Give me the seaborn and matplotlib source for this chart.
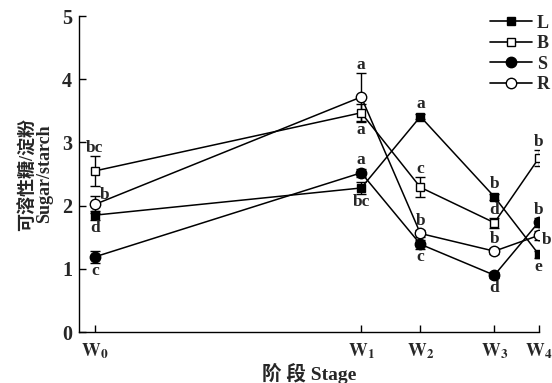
import matplotlib
matplotlib.use("Agg")
import matplotlib.pyplot as plt
import seaborn as sns
import pandas as pd
from matplotlib.lines import Line2D

# Sampling stages and their positions along the time axis
stages = ["W0", "W1", "W2", "W3", "W4"]
stage_pos = [0, 18, 22, 27, 30]
tick_labels = [r"$\mathbf{W}_\mathbf{0}$", r"$\mathbf{W}_\mathbf{1}$", r"$\mathbf{W}_\mathbf{2}$",
               r"$\mathbf{W}_\mathbf{3}$", r"$\mathbf{W}_\mathbf{4}$"]

# Soluble sugar / starch ratio per organ
L_vals = [1.85, 2.28, 3.41, 2.14, 1.23]
B_vals = [2.55, 3.47, 2.29, 1.73, 2.75]
S_vals = [1.19, 2.52, 1.39, 0.90, 1.74]
R_vals = [2.02, 3.72, 1.56, 1.28, 1.53]

# Standard errors
L_err = [0.07, 0.10, 0.04, 0.05, 0.06]
B_err = [0.24, 0.14, 0.16, 0.08, 0.13]
S_err = [0.10, 0.06, 0.07, 0.05, 0.07]
R_err = [0.14, 0.38, 0.06, 0.05, 0.07]

# Significance letters
L_sig = ["d", "bc", "a", "b", "e"]
B_sig = ["bc", "a", "c", "d", "b"]
S_sig = ["c", "a", "c", "d", "b"]
R_sig = ["b", "a", "b", "b", "b"]

series_names = ["L", "B", "S", "R"]
values = [L_vals, B_vals, S_vals, R_vals]
errors = [L_err, B_err, S_err, R_err]
letters = [L_sig, B_sig, S_sig, R_sig]

# Drawing styles
markers = {"L": "s", "B": "s", "S": "o", "R": "o"}
faces = {"L": "black", "B": "white", "S": "black", "R": "white"}
msizes = {"L": 5.5, "B": 5.5, "S": 7.5, "R": 7.5}
# where each letter sits: u = above, d = below, r = right
letter_side = {
    "L": ["d", "d", "u", "u", "d"],
    "B": ["u", "d", "u", "u", "u"],
    "S": ["d", "u", "d", "d", "u"],
    "R": ["ru", "u", "u", "u", "r"],
}
LETTER_SIZE = 12.5

rows = []
for name, vals, errs in zip(series_names, values, errors):
    for st, xp, v, e in zip(stages, stage_pos, vals, errs):
        rows.append({"organ": name, "stage": st, "pos": xp, "ratio": v, "se": e})
df = pd.DataFrame(rows)

sns.set_theme(style="ticks")
plt.rcParams["font.family"] = ["Liberation Serif", "Noto Sans CJK SC"]
plt.rcParams["mathtext.fontset"] = "stix"

fig = plt.figure(figsize=(5.52, 3.83), dpi=100)
ax = fig.add_axes([0.143, 0.133, 0.833, 0.825])

for i, name in enumerate(series_names):
    sub = df[df["organ"] == name]
    ax.errorbar(sub["pos"], sub["ratio"], yerr=sub["se"], fmt="none",
                ecolor="black", elinewidth=1.0, capsize=3.5, capthick=1.0, zorder=2)
    sns.lineplot(data=sub, x="pos", y="ratio", ax=ax, color="black", linewidth=1.1,
                 marker=markers[name], markersize=msizes[name],
                 markerfacecolor=faces[name], markeredgecolor="black",
                 markeredgewidth=1.0, zorder=3 + i, legend=False)

# Significance letters
for name, vals, errs, sigs in zip(series_names, values, errors, letters):
    for xp, v, e, s, side in zip(stage_pos, vals, errs, sigs, letter_side[name]):
        reach = max(e, 0.07)
        if side == "u":
            ax.annotate(s, (xp, v + reach), xytext=(0, 0), textcoords="offset points",
                        ha="center", va="bottom", fontsize=LETTER_SIZE, fontweight="bold")
        elif side == "d":
            ax.annotate(s, (xp, v - reach), xytext=(0, 0), textcoords="offset points",
                        ha="center", va="top", fontsize=LETTER_SIZE, fontweight="bold")
        elif side == "ru":
            ax.annotate(s, (xp, v), xytext=(3.5, 6.5), textcoords="offset points",
                        ha="left", va="center", fontsize=LETTER_SIZE, fontweight="bold")
        else:
            ax.annotate(s, (xp, v), xytext=(2.5, -3), textcoords="offset points",
                        ha="left", va="center", fontsize=LETTER_SIZE, fontweight="bold",
                        annotation_clip=False)

ax.set_xlim(-1.08, 30)
ax.set_ylim(0, 5)
ax.set_xticks(stage_pos)
ax.set_xticklabels(tick_labels, fontsize=13.5)
ax.set_yticks([0, 1, 2, 3, 4, 5])
ax.set_yticklabels(["0", "1", "2", "3", "4", "5"], fontsize=14.5, fontweight="bold")
ax.tick_params(axis="both", direction="in", length=5, width=1.0, color="black")
ax.tick_params(axis="x", pad=7)
ax.tick_params(axis="y", pad=5)
sns.despine(ax=ax)
for sp in ["left", "bottom"]:
    ax.spines[sp].set_linewidth(1.0)
    ax.spines[sp].set_color("black")

ax.set_xlabel("阶 段 Stage", fontsize=14, fontweight="bold", labelpad=1)
ax.set_ylabel("可溶性糖/淀粉\nSugar/starch", fontsize=13, fontweight="bold",
              labelpad=6, linespacing=1.0)

handles = [Line2D([0], [0], color="black", linewidth=1.2, marker=markers[n],
                  markersize=msizes[n], markerfacecolor=faces[n],
                  markeredgecolor="black") for n in series_names]
fig.legend(handles, series_names, loc="upper left", bbox_to_anchor=(0.888, 0.962),
           frameon=False, handlelength=2.3, handletextpad=0.3, borderpad=0,
           labelspacing=0.2, borderaxespad=0, prop={"weight": "bold", "size": 13})

fig.savefig("out.png", dpi=100)
